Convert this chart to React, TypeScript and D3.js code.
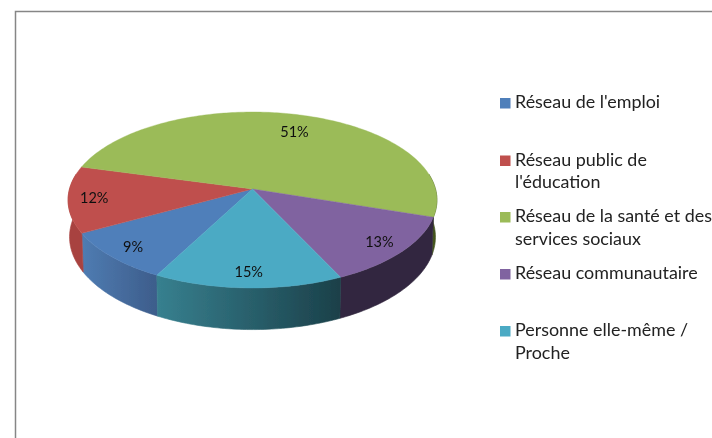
import React from "react";
import * as d3 from "d3";

const categories = ["Réseau de l'emploi", "Réseau public de|l'éducation", "Réseau de la santé et des|services sociaux", "Réseau communautaire", "Personne elle-même /|Proche"];
const values = [9.3, 12.2, 50.8, 12.9, 14.7];
const topColors = ["#4f7fba", "#bf504d", "#9bbb59", "#8063a0", "#4baac4"];
const sideStart = ["#4f7cb2", "#a8423f", "#44551f", "#32273f", "#37808f"];
const sideEnd = ["#3d5d8b", "#a8423f", "#44551f", "#32273f", "#1b4049"];
const legendBaselines = [108, 165.5, 222, 279, 336];

const W = 712, H = 438;
const cx = 252.5, apexY = 189;
const k = 0.125, A = 86.6, B = 183, depth = 36.4;
const startDeg = 207.7;
const rad = Math.PI / 180;

function project(angle: number, r: number, bottom = false): [number, number] {
  const u = r * Math.sin(angle), v = -r * Math.cos(angle);
  const d = 1 - k * v;
  const s = bottom ? 0.992 : 1;
  return [cx + (s * B * u) / d, apexY + (A * v + (bottom ? depth : 0)) / d];
}

const pie = d3.pie<number>().sort(null).startAngle(startDeg * rad).endAngle((startDeg + 360) * rad);
const arcs = pie(values);
const line = d3.line();
const visMin = 80 * rad, visMax = 280 * rad;

function rim(a0: number, a1: number, bottom = false) {
  const n = Math.max(2, Math.ceil(Math.abs(a1 - a0) / rad));
  return d3.range(n + 1).map((i) => project(a0 + ((a1 - a0) * i) / n, 1, bottom));
}

function sideRanges(a0: number, a1: number): [number, number][] {
  const out: [number, number][] = [];
  for (const off of [0, 2 * Math.PI]) {
    const s = Math.max(a0, visMin + off), e = Math.min(a1, visMax + off);
    if (e > s) out.push([s, e]);
  }
  return out;
}

export default function App() {
  return (
    <svg width={W} height={H} style={{ position: "fixed", left: 0, top: 0, background: "#fff" }} fontFamily="Lato, Carlito, sans-serif">
      <defs>
        <filter id="soft" x="-5%" y="-5%" width="110%" height="110%">
          <feGaussianBlur stdDeviation="0.35" />
        </filter>
        {arcs.map((a, i) => {
          const xs = sideRanges(a.startAngle, a.endAngle).flatMap(([s, e]) => rim(s, e).map((p) => p[0]));
          return (
            <linearGradient key={i} id={`side${i}`} gradientUnits="userSpaceOnUse" x1={d3.min(xs) ?? 0} x2={d3.max(xs) ?? 1} y1={0} y2={0}>
              <stop offset="0" stopColor={sideStart[i]} />
              <stop offset="1" stopColor={sideEnd[i]} />
            </linearGradient>
          );
        })}
      </defs>
      <g filter="url(#soft)">
        <path d="M15.5,438V11.5H712" fill="none" stroke="#868686" strokeWidth={1.5} />
        {arcs.map((a, i) =>
          sideRanges(a.startAngle, a.endAngle).map(([s, e], j) => (
            <path key={`${i}-${j}`} d={line([...rim(s, e), ...rim(e, s, true)]) + "Z"} fill={`url(#side${i})`} stroke={`url(#side${i})`} strokeWidth={0.6} />
          ))
        )}
        {arcs.map((a, i) => (
          <path key={i} d={line([[cx, apexY], ...rim(a.startAngle, a.endAngle)]) + "Z"} fill={topColors[i]} stroke={topColors[i]} strokeWidth={0.4} />
        ))}
        {arcs.map((a, i) => {
          const r = a.value === d3.max(values) ? 0.76 : 0.86;
          const [x, y] = project((a.startAngle + a.endAngle) / 2 + (a.value === d3.max(values) ? 2.5 * rad : 0), r);
          return (
            <text key={i} x={x} y={y + 5} textAnchor="middle" fontSize={14.5} fill="#111">
              {Math.round(a.value)}%
            </text>
          );
        })}
        {categories.map((c, i) => (
          <g key={i}>
            <rect x={500} y={legendBaselines[i] - 10} width={10.5} height={10.5} fill={topColors[i]} />
            {c.split("|").map((t, j) => (
              <text key={j} x={515} y={legendBaselines[i] + j * 22.5} fontSize={17.9} fill="#222">
                {t}
              </text>
            ))}
          </g>
        ))}
      </g>
    </svg>
  );
}
